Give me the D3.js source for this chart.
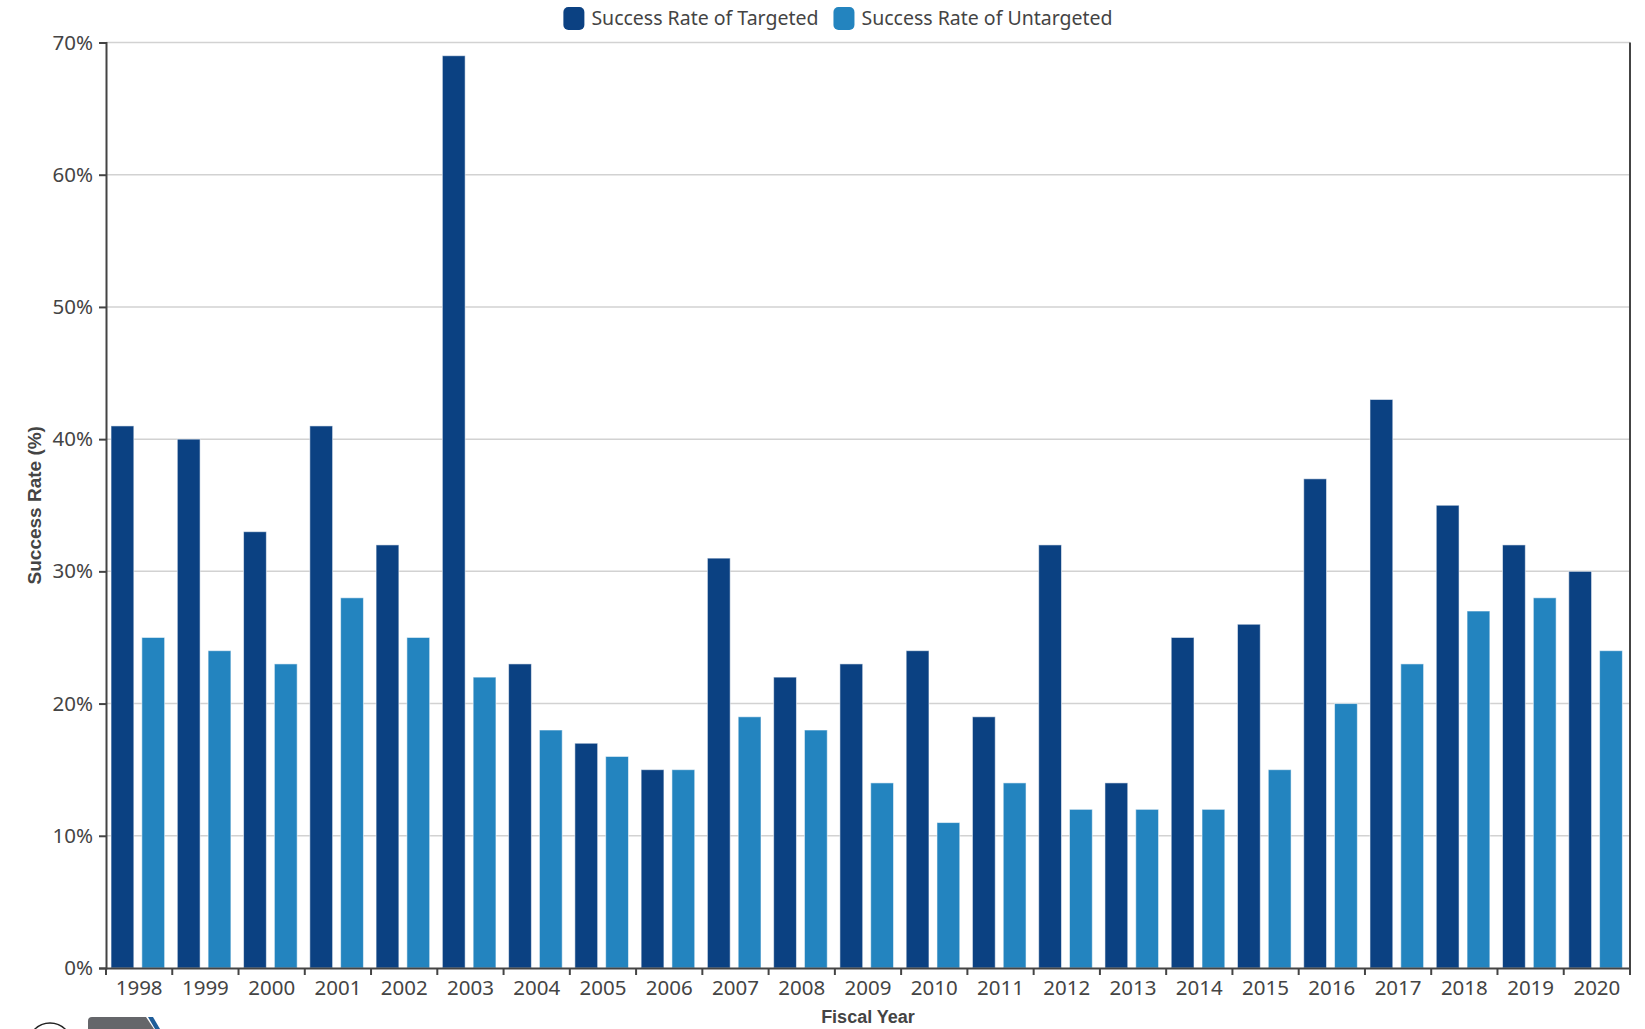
<!DOCTYPE html>
<html>
<head>
<meta charset="utf-8">
<script src="https://cdn.jsdelivr.net/npm/d3@7"></script>
<style>
  body { margin: 0; background: #fff; }
  svg text { font-family: "Noto Sans", "Open Sans", sans-serif; }
</style>
</head>
<body>
<div id="chart"></div>
<script>
const years = ["1998", "1999", "2000", "2001", "2002", "2003", "2004", "2005", "2006", "2007", "2008", "2009",
  "2010", "2011", "2012", "2013", "2014", "2015", "2016", "2017", "2018", "2019", "2020"];
const targeted = [41, 40, 33, 41, 32, 69, 23, 17, 15, 31, 22, 23, 24, 19, 32, 14, 25, 26, 37, 43, 35, 32, 30];
const untargeted = [25, 24, 23, 28, 25, 22, 18, 16, 15, 19, 18, 14, 11, 14, 12, 12, 12, 15, 20, 23, 27, 28, 24];
const seriesNames = ["Success Rate of Targeted", "Success Rate of Untargeted"];
const yTicks = [0, 10, 20, 30, 40, 50, 60, 70];

function drawChart() {
  const width = 1645, height = 1029;
  const margin = { top: 42.5, right: 15, bottom: 61, left: 106 };
  const innerWidth = width - margin.left - margin.right,
    innerHeight = height - margin.top - margin.bottom;
  const colors = ["#0b4182", "#2384bf"];

  const rows = years.map((y, i) => ({ year: y, values: [targeted[i], untargeted[i]] }));

  const svg = d3.select("#chart").append("svg")
    .attr("width", width)
    .attr("height", height);

  const g = svg.append("g")
    .attr("transform", `translate(${margin.left},${margin.top})`);

  const x0 = d3.scaleBand()
    .domain(years)
    .range([0, innerWidth])
    .padding(0);

  const bw = x0.bandwidth();
  const x1 = d3.scaleBand()
    .domain([0, 1])
    .range([bw * 0.076, bw * 0.885])
    .paddingInner(0.26);

  const y = d3.scaleLinear()
    .domain([0, 70])
    .range([innerHeight, 0]);

  // grid
  g.append("g")
    .selectAll("line")
    .data(yTicks.filter(t => t > 0))
    .join("line")
    .attr("x1", 0)
    .attr("x2", innerWidth)
    .attr("y1", d => y(d))
    .attr("y2", d => y(d))
    .style("stroke", "#d2d2d2")
    .style("stroke-width", 1.5);

  // bars
  g.append("g")
    .selectAll("g")
    .data(rows)
    .join("g")
    .attr("transform", d => `translate(${x0(d.year)},0)`)
    .selectAll("rect")
    .data(d => d.values.map((v, i) => ({ i, v })))
    .join("rect")
    .attr("x", d => x1(d.i))
    .attr("y", d => y(d.v))
    .attr("width", x1.bandwidth())
    .attr("height", d => y(0) - y(d.v))
    .style("fill", d => colors[d.i])
    .style("stroke", "rgba(255,255,255,0.55)")
    .style("stroke-width", 1);

  // y axis
  const yAxis = g.append("g")
    .call(d3.axisLeft(y).tickValues(yTicks).tickFormat(d => d + "%").tickSize(7).tickPadding(6));
  yAxis.selectAll("text").style("font-size", "20.5px").style("fill", "#444");
  yAxis.selectAll("line").style("stroke", "#444").style("stroke-width", 2);
  yAxis.select(".domain").style("stroke", "#444").style("stroke-width", 2);

  // right border line
  g.append("line")
    .attr("x1", innerWidth).attr("x2", innerWidth)
    .attr("y1", 0).attr("y2", innerHeight)
    .style("stroke", "#444").style("stroke-width", 2);

  // x axis
  const xAxis = g.append("g")
    .attr("transform", `translate(0,${innerHeight})`)
    .call(d3.axisBottom(x0).tickSize(0).tickPadding(12));
  xAxis.selectAll("text").style("font-size", "20.5px").style("fill", "#444");
  xAxis.select(".domain").style("stroke", "#444").style("stroke-width", 2);

  g.append("g")
    .attr("transform", `translate(0,${innerHeight})`)
    .selectAll("line")
    .data(years.map(d => x0(d)).concat([innerWidth]))
    .join("line")
    .attr("x1", d => d).attr("x2", d => d)
    .attr("y1", 0).attr("y2", 7)
    .style("stroke", "#444").style("stroke-width", 2);

  // axis titles
  svg.append("text")
    .attr("transform", `translate(41,${margin.top + innerHeight / 2}) rotate(-90)`)
    .attr("text-anchor", "middle")
    .style("font-family", "'Liberation Sans', Arial, sans-serif")
    .style("font-weight", "bold")
    .style("font-size", "19px")
    .style("fill", "#444")
    .text("Success Rate (%)");

  svg.append("text")
    .attr("x", margin.left + innerWidth / 2)
    .attr("y", 1023)
    .attr("text-anchor", "middle")
    .style("font-family", "'Liberation Sans', Arial, sans-serif")
    .style("font-weight", "bold")
    .style("font-size", "18px")
    .style("fill", "#444")
    .text("Fiscal Year");

  // legend, laid out from the measured text widths and centred like the reference
  const legend = svg.append("g").attr("transform", "translate(0,7)");
  let cursor = 0;
  seriesNames.forEach((name, i) => {
    const item = legend.append("g").attr("transform", `translate(${cursor},0)`);
    item.append("rect")
      .attr("width", 21).attr("height", 23)
      .attr("rx", 5).attr("ry", 5)
      .style("fill", colors[i]);
    const t = item.append("text")
      .attr("x", 28).attr("y", 18)
      .style("font-size", "19.5px")
      .style("fill", "#444")
      .text(name);
    cursor += 28 + t.node().getComputedTextLength() + 15;
  });
  const legendWidth = cursor - 15;
  legend.attr("transform", `translate(${838 - legendWidth / 2},7)`);

  // partial logos at bottom-left
  const logo = svg.append("g");
  logo.append("circle")
    .attr("cx", 50).attr("cy", 1045).attr("r", 22)
    .style("fill", "none").style("stroke", "#222").style("stroke-width", 1.5);
  logo.append("path")
    .attr("d", "M88,1029 L88,1021 Q88,1017 92,1017 L146,1017 L154,1029 Z")
    .style("fill", "#65666a");
  logo.append("path")
    .attr("d", "M148,1017 L153,1017 L160,1029 L155,1029 Z")
    .style("fill", "#1f5d99");
}

drawChart();
</script>
</body>
</html>
